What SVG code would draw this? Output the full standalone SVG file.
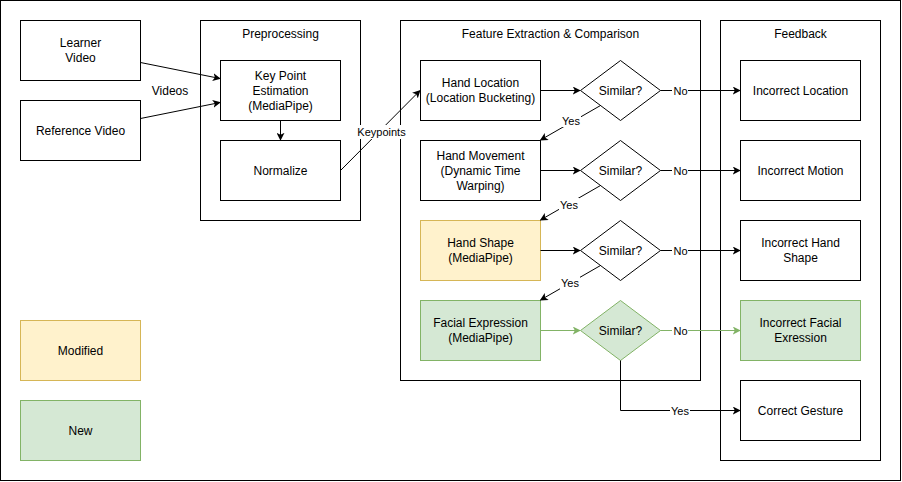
<svg xmlns="http://www.w3.org/2000/svg" width="902" height="482" viewBox="0 0 902 482">
<defs>
<style>
text{font-family:"Liberation Sans",Arial,sans-serif;font-size:12px;fill:#000;text-anchor:middle;dominant-baseline:central}
.n{fill:#fff;stroke:#000;stroke-width:1}
.y{fill:#fff2cc;stroke:#d6b656;stroke-width:1}
.g{fill:#d5e8d4;stroke:#82b366;stroke-width:1}
.e{fill:none;stroke:#000;stroke-width:1}
.eg{fill:none;stroke:#82b366;stroke-width:1}
.lb{fill:#fff}
.s{font-size:11px}
</style>
<marker id="a" viewBox="0 0 10 10" refX="9" refY="5" markerWidth="8" markerHeight="8" markerUnits="userSpaceOnUse" orient="auto"><path d="M0,0 L10,5 L0,10 L2.5,5 Z" fill="#000"/></marker>
<marker id="ag" viewBox="0 0 10 10" refX="9" refY="5" markerWidth="8" markerHeight="8" markerUnits="userSpaceOnUse" orient="auto"><path d="M0,0 L10,5 L0,10 L2.5,5 Z" fill="#82b366"/></marker>
</defs>
<rect x="0" y="0" width="902" height="482" fill="#fff"/>
<rect x="0.5" y="0.5" width="900" height="480" fill="#fff" stroke="#000"/>

<g id="preprocessing"><rect class="n" x="200.5" y="20.5" width="160" height="200"/><text x="280.5" y="33.5">Preprocessing</text></g>
<g id="feature"><rect class="n" x="400.5" y="20.5" width="300" height="360"/><text x="550.5" y="33.5">Feature Extraction &amp; Comparison</text></g>
<g id="feedback"><rect class="n" x="720.5" y="20.5" width="160" height="440"/><text x="800.5" y="33.5">Feedback</text></g>

<g id="learner"><rect class="n" x="20.5" y="20.5" width="120" height="60"/><text x="80.5" y="43">Learner</text><text x="80.5" y="58">Video</text></g>
<g id="reference"><rect class="n" x="20.5" y="100.5" width="120" height="60"/><text x="80.5" y="130.5">Reference Video</text></g>
<g id="keypoint"><rect class="n" x="220.5" y="60.5" width="120" height="60"/><text x="280.5" y="75.5">Key Point</text><text x="280.5" y="90.5">Estimation</text><text x="280.5" y="105.5">(MediaPipe)</text></g>
<g id="normalize"><rect class="n" x="220.5" y="140.5" width="120" height="60"/><text x="280.5" y="170.5">Normalize</text></g>

<g id="handloc"><rect class="n" x="420.5" y="60.5" width="120" height="60"/><text x="480.5" y="83">Hand Location</text><text x="480.5" y="98">(Location Bucketing)</text></g>
<g id="handmov"><rect class="n" x="420.5" y="140.5" width="120" height="60"/><text x="480.5" y="155.5">Hand Movement</text><text x="480.5" y="170.5">(Dynamic Time</text><text x="480.5" y="185.5">Warping)</text></g>
<g id="handshape"><rect class="y" x="420.5" y="220.5" width="120" height="60"/><text x="480.5" y="243">Hand Shape</text><text x="480.5" y="258">(MediaPipe)</text></g>
<g id="facial"><rect class="g" x="420.5" y="300.5" width="120" height="60"/><text x="480.5" y="323">Facial Expression</text><text x="480.5" y="338">(MediaPipe)</text></g>

<g id="d1"><path class="n" d="M620.5,60.5 L660.5,90.5 L620.5,120.5 L580.5,90.5 Z"/><text x="620.5" y="90.5">Similar?</text></g>
<g id="d2"><path class="n" d="M620.5,140.5 L660.5,170.5 L620.5,200.5 L580.5,170.5 Z"/><text x="620.5" y="170.5">Similar?</text></g>
<g id="d3"><path class="n" d="M620.5,220.5 L660.5,250.5 L620.5,280.5 L580.5,250.5 Z"/><text x="620.5" y="250.5">Similar?</text></g>
<g id="d4"><path class="g" d="M620.5,300.5 L660.5,330.5 L620.5,360.5 L580.5,330.5 Z"/><text x="620.5" y="330.5">Similar?</text></g>

<g id="incloc"><rect class="n" x="740.5" y="60.5" width="120" height="60"/><text x="800.5" y="90.5">Incorrect Location</text></g>
<g id="incmot"><rect class="n" x="740.5" y="140.5" width="120" height="60"/><text x="800.5" y="170.5">Incorrect Motion</text></g>
<g id="incshape"><rect class="n" x="740.5" y="220.5" width="120" height="60"/><text x="800.5" y="243">Incorrect Hand</text><text x="800.5" y="258">Shape</text></g>
<g id="incface"><rect class="g" x="740.5" y="300.5" width="120" height="60"/><text x="800.5" y="323">Incorrect Facial</text><text x="800.5" y="338">Exression</text></g>
<g id="correct"><rect class="n" x="740.5" y="380.5" width="120" height="60"/><text x="800.5" y="410.5">Correct Gesture</text></g>

<g id="modified"><rect class="y" x="20.5" y="320.5" width="120" height="60"/><text x="80.5" y="350.5">Modified</text></g>
<g id="new"><rect class="g" x="20.5" y="400.5" width="120" height="60"/><text x="80.5" y="430.5">New</text></g>

<g id="connectors">
<path class="e" d="M140.5,62.5 L220,78.5" marker-end="url(#a)"/>
<path class="e" d="M140.5,118.5 L220,102.5" marker-end="url(#a)"/>
<text x="170" y="90.5">Videos</text>
<path class="e" d="M280.5,120.5 L280.5,140" marker-end="url(#a)"/>
<path class="e" d="M340.5,170.5 L420,90.5" marker-end="url(#a)"/>
<rect class="lb" x="357" y="125" width="50" height="14"/>
<text class="s" x="381.5" y="132">Keypoints</text>

<path class="e" d="M540.5,90.5 L580,90.5" marker-end="url(#a)"/>
<path class="e" d="M540.5,170.5 L580,170.5" marker-end="url(#a)"/>
<path class="e" d="M540.5,250.5 L580,250.5" marker-end="url(#a)"/>
<path class="eg" d="M540.5,330.5 L580,330.5" marker-end="url(#ag)"/>

<path class="e" d="M660.5,90.5 L740,90.5" marker-end="url(#a)"/>
<path class="e" d="M660.5,170.5 L740,170.5" marker-end="url(#a)"/>
<path class="e" d="M660.5,250.5 L740,250.5" marker-end="url(#a)"/>
<path class="eg" d="M660.5,330.5 L740,330.5" marker-end="url(#ag)"/>
<rect class="lb" x="672" y="84" width="16" height="13"/><text class="s" x="680.5" y="91">No</text>
<rect class="lb" x="672" y="164" width="16" height="13"/><text class="s" x="680.5" y="171">No</text>
<rect class="lb" x="672" y="244" width="16" height="13"/><text class="s" x="680.5" y="251">No</text>
<rect class="lb" x="672" y="324" width="16" height="13"/><text class="s" x="680.5" y="331">No</text>

<path class="e" d="M600.5,105.5 L540.5,140" marker-end="url(#a)"/>
<path class="e" d="M600.5,185.5 L540.5,220" marker-end="url(#a)"/>
<path class="e" d="M600.5,265.5 L540.5,300" marker-end="url(#a)"/>
<rect class="lb" x="561" y="114" width="20" height="13"/><text class="s" x="571" y="121">Yes</text>
<rect class="lb" x="559" y="198" width="20" height="13"/><text class="s" x="569" y="205">Yes</text>
<rect class="lb" x="560" y="276" width="20" height="13"/><text class="s" x="570" y="283">Yes</text>

<path class="e" d="M620.5,360.5 L620.5,410.5 L740,410.5" marker-end="url(#a)"/>
<rect class="lb" x="670" y="404" width="20" height="13"/><text class="s" x="680" y="411">Yes</text>
</g>
</svg>
